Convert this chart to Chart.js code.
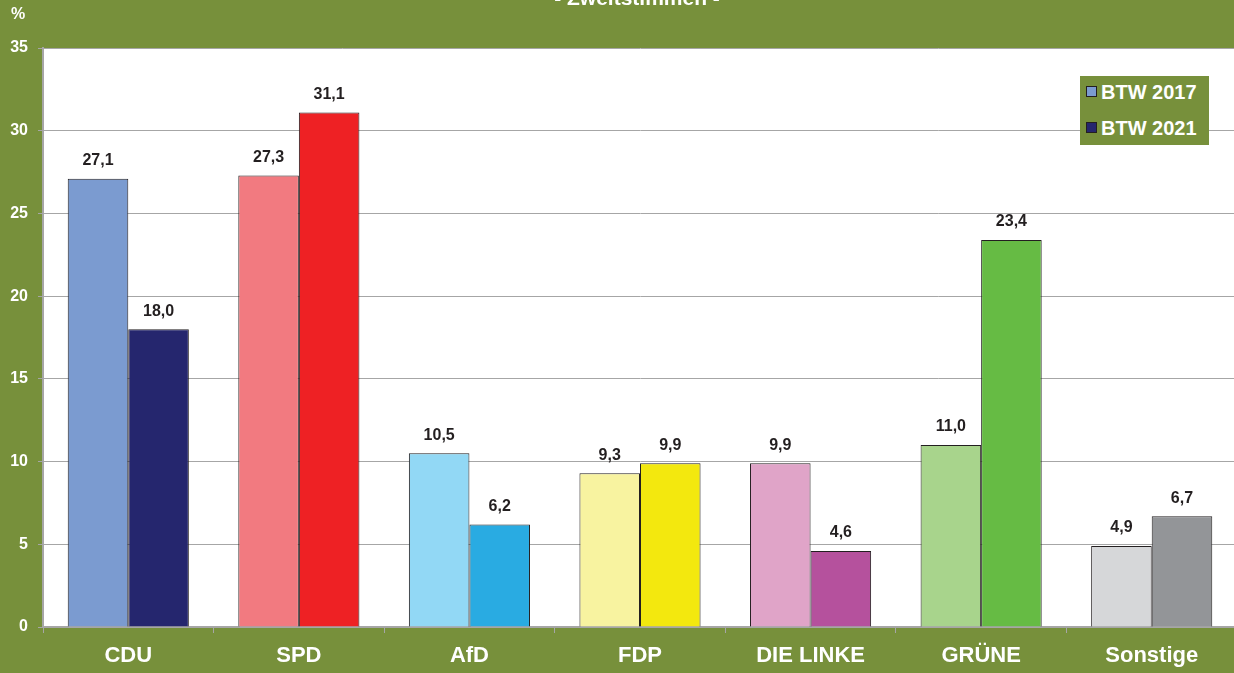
<!DOCTYPE html>
<html>
<head>
<meta charset="utf-8">
<script src="https://cdn.jsdelivr.net/npm/chart.js@4"></script>
<style>
    html, body { margin: 0; padding: 0; overflow: hidden; background: #77903b; }
    body { width: 1234px; height: 673px; position: relative; font-family: "Liberation Sans", Arial, sans-serif; }
    #wrap { position: absolute; left: 0; top: 0; width: 1237px; height: 673px; }
    .title { position: absolute; top: -14px; left: 0; width: 1274px; text-align: center; color: #fff; font-weight: bold; font-size: 21px; }
    .unit { position: absolute; top: 5px; left: 11px; color: #fff; font-weight: bold; font-size: 16px; }
    .legend { position: absolute; left: 1080px; top: 76px; width: 129px; height: 69px; background: #77903b; color: #fff; font-weight: bold; font-size: 20px; }
    .legend div { position: absolute; left: 6px; white-space: nowrap; line-height: 22px; }
    .legend span { display: inline-block; width: 9px; height: 9px; border: 1px solid #231f20; margin-right: 4px; vertical-align: 2px; }
</style>
</head>
<body>
<div id="wrap"><canvas id="chart" width="1237" height="673"></canvas></div>
<div class="title">- Zweitstimmen -</div>
<div class="unit">%</div>
<div class="legend" id="legend"></div>
<script>
const categories = ['CDU', 'SPD', 'AfD', 'FDP', 'DIE LINKE', 'GRÜNE', 'Sonstige'];
const seriesNames = ['BTW 2017', 'BTW 2021'];
const btw2017 = [27.1, 27.3, 10.5, 9.3, 9.9, 11.0, 4.9];
const btw2021 = [18.0, 31.1, 6.2, 9.9, 4.6, 23.4, 6.7];
const yTicks = [0, 5, 10, 15, 20, 25, 30, 35];

const colors2017 = ['#7b9bd0', '#f27a80', '#92d8f5', '#f8f3a0', '#e0a4c8', '#a8d48c', '#d6d7d9'];
const colors2021 = ['#25266e', '#ee2124', '#29abe2', '#f3e80e', '#b5519d', '#66bb44', '#939598'];

const FONT = '"Liberation Sans", Arial, sans-serif';

// white plot area
const plotBackground = {
    id: 'plotBackground',
    beforeDraw(chart) {
        const { ctx, chartArea } = chart;
        ctx.save();
        ctx.fillStyle = '#ffffff';
        ctx.fillRect(chartArea.left, chartArea.top, chartArea.right - chartArea.left, chartArea.bottom - chartArea.top);
        ctx.restore();
    }
};

// value labels above the bars, German decimal comma
const valueLabels = {
    id: 'valueLabels',
    afterDatasetsDraw(chart) {
        const ctx = chart.ctx;
        ctx.save();
        ctx.font = 'bold 16px ' + FONT;
        ctx.fillStyle = '#231f20';
        ctx.textAlign = 'center';
        ctx.textBaseline = 'bottom';
        chart.data.datasets.forEach((ds, i) => {
            chart.getDatasetMeta(i).data.forEach((bar, j) => {
                const text = ds.data[j].toFixed(1).replace('.', ',');
                ctx.fillText(text, bar.x, bar.y - 10);
            });
        });
        ctx.restore();
    }
};

const chart = new Chart(document.getElementById('chart'), {
    type: 'bar',
    data: {
        labels: categories,
        datasets: [
            { label: seriesNames[0], data: btw2017, backgroundColor: colors2017, borderColor: '#231f20', borderWidth: 1 },
            { label: seriesNames[1], data: btw2021, backgroundColor: colors2021, borderColor: '#231f20', borderWidth: 1 }
        ]
    },
    options: {
        responsive: false,
        animation: false,
        layout: { padding: { top: 48, right: 0, left: 0, bottom: 0 } },
        datasets: { bar: { categoryPercentage: 0.71, barPercentage: 1.0 } },
        plugins: {
            legend: { display: false },
            tooltip: { enabled: false }
        },
        scales: {
            x: {
                afterFit: (s) => { s.height = 46; },
                grid: { display: true, drawOnChartArea: false, drawTicks: true, tickLength: 6, offset: true, color: '#a6a6a6' },
                border: { color: '#a6a6a6', width: 2 },
                ticks: { color: '#ffffff', font: { family: FONT, size: 22, weight: 'bold' }, padding: 10 }
            },
            y: {
                min: 0,
                max: 35,
                afterFit: (s) => { s.width = 43; },
                afterBuildTicks: (s) => { s.ticks = yTicks.map(v => ({ value: v })); },
                grid: { color: '#a6a6a6', lineWidth: 1, tickLength: 5 },
                border: { color: '#a6a6a6', width: 2 },
                ticks: { color: '#ffffff', font: { family: FONT, size: 16, weight: 'bold' }, padding: 10 }
            }
        }
    },
    plugins: [plotBackground, valueLabels]
});

// legend box
const legend = document.getElementById('legend');
seriesNames.forEach((name, i) => {
    const item = document.createElement('div');
    item.style.top = (i === 0 ? 5 : 41) + 'px';
    item.innerHTML = `<span style="background:${i === 0 ? colors2017[0] : colors2021[0]}"></span>${name}`;
    legend.appendChild(item);
});
</script>
</body>
</html>
